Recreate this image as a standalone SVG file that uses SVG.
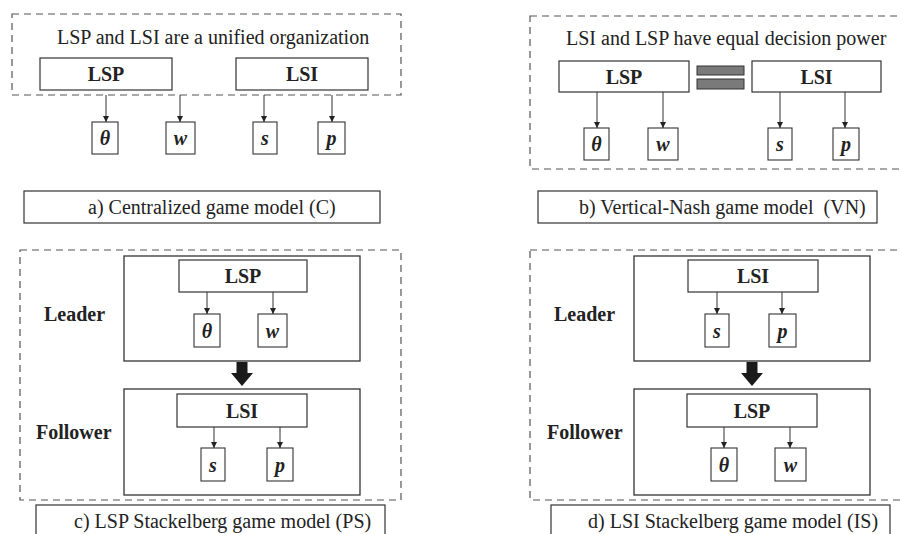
<svg xmlns="http://www.w3.org/2000/svg" width="902" height="534" viewBox="0 0 902 534" font-family="'Liberation Serif', 'Times New Roman', Times, 'DejaVu Serif', serif">
<defs>
<marker id="ah" viewBox="0 0 10 10" refX="10" refY="5" markerWidth="6" markerHeight="7" markerUnits="userSpaceOnUse" orient="auto">
<path d="M0,0 L10,5 L0,10 z" fill="#222"/>
</marker>
</defs>
<style>
.dash{fill:none;stroke:#555;stroke-width:1.2;stroke-dasharray:7 5}
.box{fill:#fff;stroke:#333;stroke-width:1.2}
.frame{fill:#fff;stroke:#333;stroke-width:1.3}
.var{fill:#fff;stroke:#333;stroke-width:1.1}
text{font-family:'Liberation Serif','Times New Roman',Times,'DejaVu Serif',serif;fill:#222}
.title{font-size:20px}
.lab{font-size:20px;font-weight:bold;text-anchor:middle}
.side{font-size:20px;font-weight:bold}
.v{font-size:20px;font-weight:bold;font-style:italic;text-anchor:middle}
.cap{font-size:20px}
.conn line{stroke:#333;stroke-width:1;marker-end:url(#ah)}
.eq{fill:#7a7a7a;stroke:#333;stroke-width:1}
.big{fill:#1a1a1a}
</style>
<rect width="902" height="534" fill="#fff"/>

<!-- Panel a -->
<g id="panel-a">
<rect class="dash" x="12" y="14" width="389" height="81"/>
<text class="title" x="57" y="44">LSP and LSI are a unified organization</text>
</g>
<g id="a-LSP"><rect class="box" x="40" y="58" width="132" height="32"/><text class="lab" x="106" y="81">LSP</text></g>
<g id="a-LSI"><rect class="box" x="236" y="58" width="132" height="32"/><text class="lab" x="302" y="81">LSI</text></g>
<g id="a-theta"><rect class="var" x="92" y="122" width="26" height="32"/><text class="v" x="105" y="145">θ</text></g>
<g id="a-w"><rect class="var" x="166" y="122" width="29" height="32"/><text class="v" x="180.5" y="145">w</text></g>
<g id="a-s"><rect class="var" x="253" y="122" width="24" height="32"/><text class="v" x="265" y="145">s</text></g>
<g id="a-p"><rect class="var" x="318" y="122" width="27" height="32"/><text class="v" x="331.5" y="145">p</text></g>
<g id="cap-a"><rect class="box" x="24" y="191" width="356" height="32"/><text class="cap" x="88" y="214">a) Centralized game model (C)</text></g>

<!-- Panel b -->
<g id="panel-b">
<rect class="dash" x="530" y="16" width="390" height="153"/>
<text class="title" x="566" y="45">LSI and LSP have equal decision power</text>
</g>
<g id="b-LSP"><rect class="box" x="559" y="61" width="130" height="31"/><text class="lab" x="624" y="84">LSP</text></g>
<g id="b-equal"><rect class="eq" x="697" y="66" width="47" height="9"/><rect class="eq" x="697" y="79" width="47" height="10"/></g>
<g id="b-LSI"><rect class="box" x="752" y="61" width="129" height="31"/><text class="lab" x="816.5" y="84">LSI</text></g>
<g id="b-theta"><rect class="var" x="584" y="128" width="25" height="32"/><text class="v" x="596.5" y="151">θ</text></g>
<g id="b-w"><rect class="var" x="648" y="128" width="30" height="32"/><text class="v" x="663" y="151">w</text></g>
<g id="b-s"><rect class="var" x="768" y="128" width="24" height="32"/><text class="v" x="780" y="151">s</text></g>
<g id="b-p"><rect class="var" x="833" y="128" width="26" height="32"/><text class="v" x="846" y="151">p</text></g>
<g id="cap-b"><rect class="box" x="538" y="191" width="339" height="32"/><text class="cap" x="579" y="214" xml:space="preserve">b) Vertical-Nash game model  (VN)</text></g>

<!-- Panel c -->
<g id="panel-c">
<rect class="dash" x="20" y="250" width="381" height="250"/>
<text class="side" x="44" y="321">Leader</text>
<text class="side" x="36" y="439">Follower</text>
</g>
<g id="c-leader"><rect class="frame" x="124" y="256" width="236" height="105"/></g>
<g id="c-LSP"><rect class="box" x="179" y="260" width="128" height="32"/><text class="lab" x="243" y="283">LSP</text></g>
<g id="c-theta"><rect class="var" x="194" y="314" width="26" height="33"/><text class="v" x="207" y="338">θ</text></g>
<g id="c-w"><rect class="var" x="258" y="314" width="29" height="33"/><text class="v" x="272.5" y="338">w</text></g>
<g id="c-follower"><rect class="frame" x="124" y="389" width="236" height="106"/></g>
<g id="c-LSI"><rect class="box" x="177" y="394" width="130" height="33"/><text class="lab" x="242" y="418">LSI</text></g>
<g id="c-s"><rect class="var" x="201" y="448" width="24" height="33"/><text class="v" x="213" y="472">s</text></g>
<g id="c-p"><rect class="var" x="267" y="448" width="26" height="33"/><text class="v" x="280" y="472">p</text></g>
<g id="cap-c"><rect class="box" x="36" y="505" width="349" height="40"/><text class="cap" x="74" y="528">c) LSP Stackelberg game model (PS)</text></g>

<!-- Panel d -->
<g id="panel-d">
<rect class="dash" x="530" y="250" width="390" height="250"/>
<text class="side" x="554" y="321">Leader</text>
<text class="side" x="547" y="439">Follower</text>
</g>
<g id="d-leader"><rect class="frame" x="634" y="256" width="236" height="105"/></g>
<g id="d-LSI"><rect class="box" x="688" y="260" width="130" height="32"/><text class="lab" x="753" y="283">LSI</text></g>
<g id="d-s"><rect class="var" x="705" y="314" width="24" height="33"/><text class="v" x="717" y="338">s</text></g>
<g id="d-p"><rect class="var" x="769" y="314" width="27" height="33"/><text class="v" x="782.5" y="338">p</text></g>
<g id="d-follower"><rect class="frame" x="634" y="389" width="236" height="106"/></g>
<g id="d-LSP"><rect class="box" x="687" y="394" width="130" height="33"/><text class="lab" x="752" y="418">LSP</text></g>
<g id="d-theta"><rect class="var" x="711" y="448" width="26" height="33"/><text class="v" x="724" y="472">θ</text></g>
<g id="d-w"><rect class="var" x="775" y="448" width="31" height="33"/><text class="v" x="790.5" y="472">w</text></g>
<g id="cap-d"><rect class="box" x="551" y="505" width="339" height="40"/><text class="cap" x="588" y="528">d) LSI Stackelberg game model (IS)</text></g>

<!-- Connectors -->
<g id="connectors" class="conn">
<line x1="106" y1="95" x2="106" y2="122"/>
<line x1="180" y1="95" x2="180" y2="122"/>
<line x1="264" y1="95" x2="264" y2="122"/>
<line x1="332" y1="95" x2="332" y2="122"/>
<line x1="597" y1="92" x2="597" y2="128"/>
<line x1="663" y1="92" x2="663" y2="128"/>
<line x1="780" y1="92" x2="780" y2="128"/>
<line x1="845" y1="92" x2="845" y2="128"/>
<line x1="207" y1="292" x2="207" y2="314"/>
<line x1="273" y1="292" x2="273" y2="314"/>
<line x1="214" y1="427" x2="214" y2="448"/>
<line x1="280" y1="427" x2="280" y2="448"/>
<line x1="717" y1="292" x2="717" y2="314"/>
<line x1="782" y1="292" x2="782" y2="314"/>
<line x1="724" y1="427" x2="724" y2="448"/>
<line x1="790" y1="427" x2="790" y2="448"/>
<path class="big" d="M236.5,362 H247.5 V373 H253 L242,386 L231,373 H236.5 Z"/>
<path class="big" d="M746.5,362 H757.5 V373 H763 L752,386 L741,373 H746.5 Z"/>
</g>
</svg>
